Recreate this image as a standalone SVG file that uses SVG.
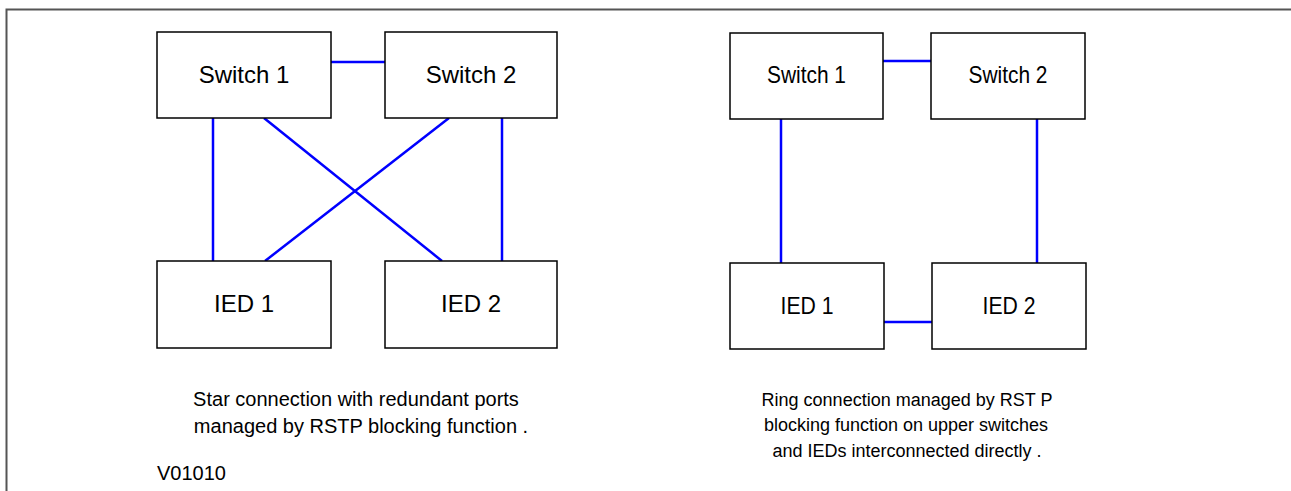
<svg xmlns="http://www.w3.org/2000/svg" width="1291" height="491" viewBox="0 0 1291 491">
<style>
.box{fill:#fff;stroke:#000;stroke-width:1.5}
.lbl{font-family:"Liberation Sans",Arial,sans-serif;font-size:24px;fill:#000;text-anchor:middle}
.cap{font-family:"Liberation Sans",Arial,sans-serif;font-size:20px;fill:#000;text-anchor:middle}
.cap2{font-family:"Liberation Sans",Arial,sans-serif;font-size:18px;fill:#000;text-anchor:middle}
.con{stroke:#0000ff;stroke-width:2.5;fill:none}
</style>
<rect width="1291" height="491" fill="#fff"/>
<path d="M6.5,491 V9.5 H1291" fill="none" stroke="#555" stroke-width="2"/>
<g id="connectors">
<line class="con" x1="331" y1="62" x2="385" y2="62"/>
<line class="con" x1="213" y1="118" x2="213" y2="261"/>
<line class="con" x1="264" y1="118" x2="442" y2="261"/>
<line class="con" x1="449" y1="118" x2="265" y2="261"/>
<line class="con" x1="502" y1="118" x2="502" y2="261"/>
<line class="con" x1="883" y1="61" x2="931" y2="61"/>
<line class="con" x1="781" y1="119" x2="781" y2="263"/>
<line class="con" x1="1037" y1="119" x2="1037" y2="263"/>
<line class="con" x1="884" y1="322" x2="932" y2="322"/>
</g>
<g id="star-switch1"><rect class="box" x="157" y="32" width="174" height="86"/><text class="lbl" x="244" y="83">Switch 1</text></g>
<g id="star-switch2"><rect class="box" x="385" y="32" width="172" height="86"/><text class="lbl" x="471" y="83">Switch 2</text></g>
<g id="star-ied1"><rect class="box" x="157" y="261" width="174" height="87"/><text class="lbl" x="244" y="312">IED 1</text></g>
<g id="star-ied2"><rect class="box" x="385" y="261" width="172" height="87"/><text class="lbl" x="471" y="312">IED 2</text></g>
<g id="ring-switch1"><rect class="box" x="730" y="33" width="153" height="86"/><text class="lbl" x="806.5" y="83" textLength="79" lengthAdjust="spacingAndGlyphs">Switch 1</text></g>
<g id="ring-switch2"><rect class="box" x="931" y="33" width="154" height="86"/><text class="lbl" x="1008" y="83" textLength="79" lengthAdjust="spacingAndGlyphs">Switch 2</text></g>
<g id="ring-ied1"><rect class="box" x="730" y="263" width="154" height="86"/><text class="lbl" x="807" y="314" textLength="53" lengthAdjust="spacingAndGlyphs">IED 1</text></g>
<g id="ring-ied2"><rect class="box" x="932" y="263" width="154" height="86"/><text class="lbl" x="1009" y="314" textLength="53" lengthAdjust="spacingAndGlyphs">IED 2</text></g>
<g id="captions">
<text class="cap" x="356" y="406">Star connection with redundant ports</text>
<text class="cap" x="361" y="433">managed by RSTP blocking function .</text>
<text class="cap2" x="907" y="406">Ring connection managed by RST P</text>
<text class="cap2" x="906" y="431">blocking function on upper switches</text>
<text class="cap2" x="907" y="457">and IEDs interconnected directly .</text>
<text class="cap" x="157" y="480" text-anchor="start" style="text-anchor:start">V01010</text>
</g>
</svg>
